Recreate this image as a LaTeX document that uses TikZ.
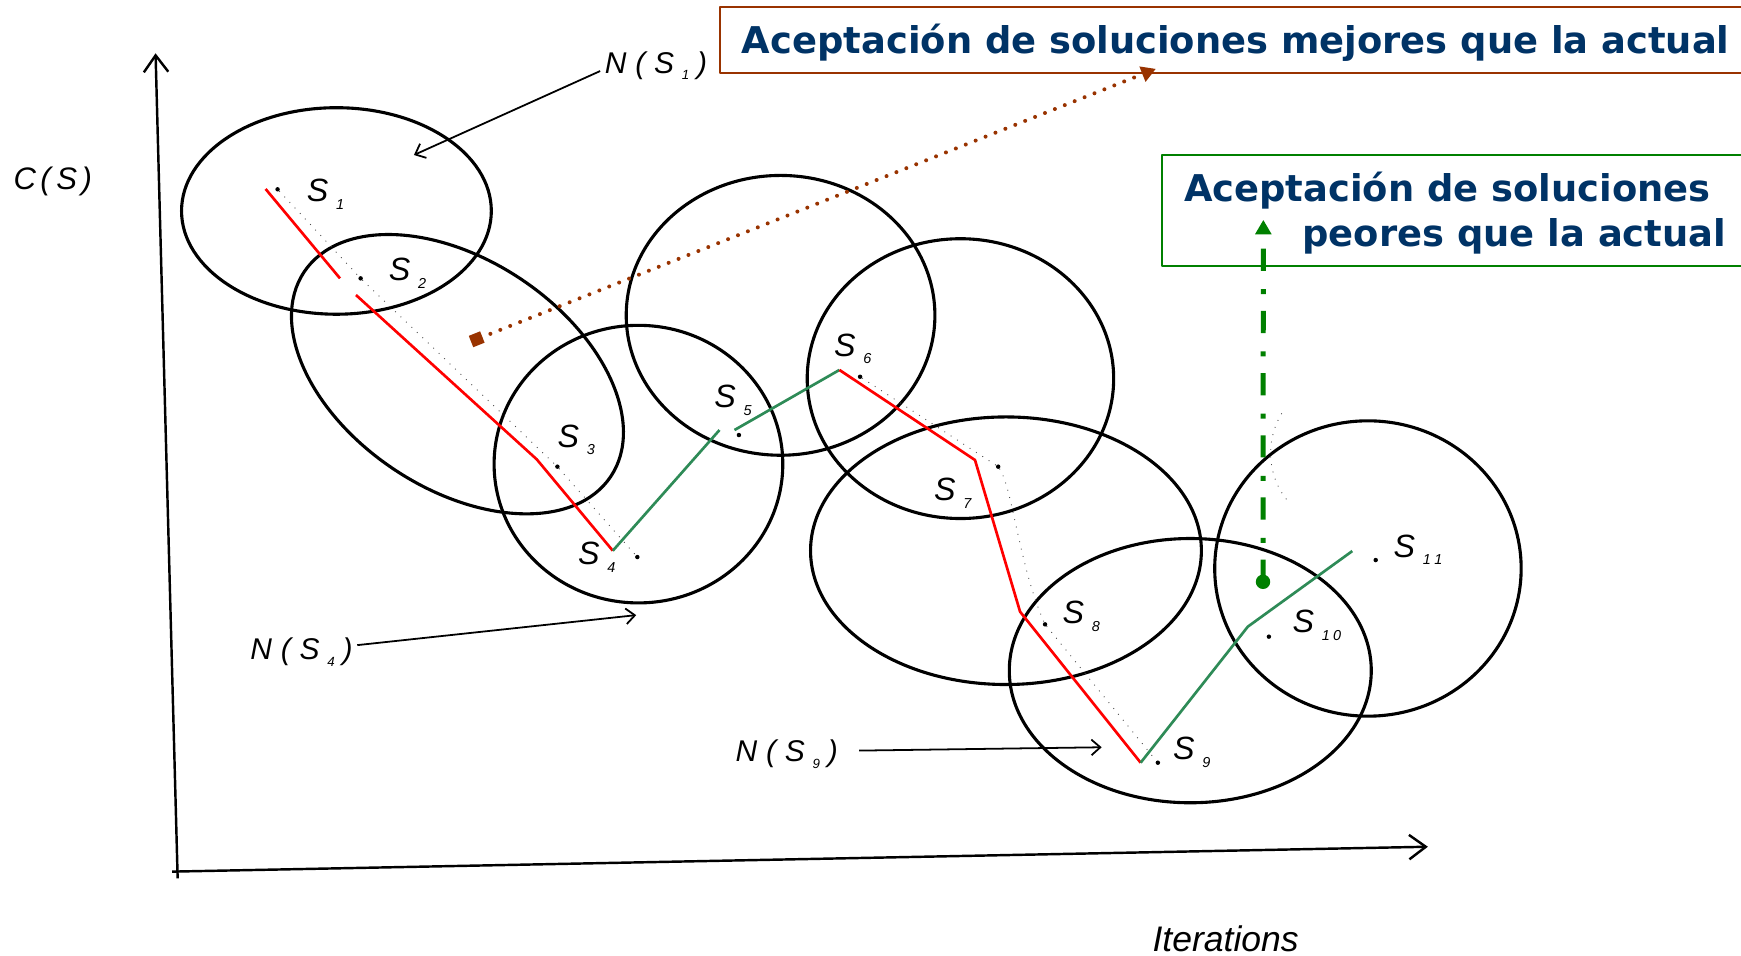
\documentclass[tikz,border=0pt]{standalone}
\usepackage{fontspec}
\setmainfont{Liberation Sans}
\newfontfamily\dvs{DejaVu Sans}
\usetikzlibrary{arrows.meta}
\definecolor{brn}{RGB}{153,51,0}
\definecolor{gbox}{RGB}{0,128,0}
\definecolor{dblue}{RGB}{0,51,102}
\definecolor{pathred}{RGB}{255,0,0}
\definecolor{pathgreen}{RGB}{46,139,87}
\newcommand\Ssub[1]{S\rlap{\kern7pt\smash{\raisebox{-7pt}{\fontsize{13}{13}\selectfont #1}}}}
\newcommand\Nlab[1]{N\kern8pt(\kern8pt S\kern7pt\smash{\raisebox{-6pt}{\fontsize{12}{12}\selectfont #1}}\kern7pt)}
\begin{document}
\begin{tikzpicture}[x=1pt,y=-1pt,line join=round,
  ell/.style={draw=black,line width=2.8pt},
  axisline/.style={draw=black,line width=2.2pt,-{Straight Barb[length=15pt,width=22pt]}},
  redp/.style={draw=pathred,line width=2.4pt},
  grnp/.style={draw=pathgreen,line width=2.4pt},
  faint/.style={draw=black!70,line width=0.8pt,dash pattern=on 0.8pt off 6pt},
  sdot/.style={circle,fill=black,inner sep=0pt,minimum size=4pt},
  slab/.style={font=\itshape\fontsize{29}{29}\selectfont,inner sep=0pt},
  nlab/.style={font=\itshape\fontsize{27}{27}\selectfont,inner sep=0pt,anchor=base},
  callout/.style={font=\dvs\bfseries\fontsize{33.2}{40}\selectfont,text=dblue,inner sep=0pt,anchor=base west},
  narrow/.style={draw=black,line width=1.6pt,-{Straight Barb[length=8pt,width=14pt]}}]
\useasboundingbox (0,0) rectangle (1568,861);
\clip (0,0) rectangle (1568,861);
\fill[white] (0,0) rectangle (1568,861);

% axes
\coordinate (ybot) at (160,791);
\coordinate (ytop) at (140.1,48);
\coordinate (xleft) at (155,785);
\coordinate (xright) at (1286,762.6);
\draw[axisline] (ybot) -- (ytop);
\draw[axisline] (xleft) -- (xright);
\node[nlab,font=\itshape\fontsize{28}{28}\selectfont] (cs) at (47.5,171) {C\kern4pt(\kern5pt S\kern4pt)};
\node[nlab,font=\itshape\fontsize{32}{32}\selectfont] (iter) at (1103.8,857) {Iterations};

% neighbourhoods
\draw[ell] (303,190) ellipse [x radius=139.5,y radius=93];
\draw[ell,rotate around={-33.7:(412,337)}] (412,337) ellipse [x radius=166,y radius=103];
\draw[ell] (575,418) ellipse [x radius=130,y radius=125];
\draw[ell] (703,284) ellipse [x radius=139,y radius=126];
\draw[ell] (865,341) ellipse [x radius=138,y radius=126];
\draw[ell] (906,496) ellipse [x radius=176,y radius=120.5];
\draw[ell] (1072,604) ellipse [x radius=163,y radius=119];
\draw[ell] (1232,512) ellipse [x radius=138,y radius=133];

% solution dots
\node[sdot] (d1) at (250,170.5) {};
\node[sdot] (d2) at (324.8,250.7) {};
\node[sdot] (d3) at (502,420.3) {};
\node[sdot] (d4) at (574,501.7) {};
\node[sdot] (d5) at (665.5,391.8) {};
\node[sdot] (d6) at (774.6,339.3) {};
\node[sdot] (d7) at (899,420.3) {};
\node[sdot] (d8) at (941.2,562.3) {};
\node[sdot] (d9) at (1042.8,686.9) {};
\node[sdot] (d10) at (1142.8,573.4) {};
\node[sdot] (d11) at (1239,504.4) {};

% faint original trajectory
\draw[faint] (d1) -- (d2);
\draw[faint] (d2) -- (d3) -- (d4);
\draw[faint] (d6) -- (d7);
\draw[faint] (d7) .. controls (912,440) and (918,510) .. (d8);
\draw[faint] (d8) -- (d9);
\draw[faint] (1154.4,372.3) .. controls (1140,395) and (1140,430) .. (1161.8,453.3);

% labels
\node[slab] (s1) at (286,171.7) {\Ssub{1}};
\node[slab] (s2) at (360,243) {\Ssub{2}};
\node[slab] (s3) at (511.9,392.7) {\Ssub{3}};
\node[slab] (s4) at (530.4,498.3) {\Ssub{4}};
\node[slab] (s5) at (653,357.3) {\Ssub{5}};
\node[slab] (s6) at (761,310.7) {\Ssub{6}};
\node[slab] (s7) at (851,440.7) {\Ssub{7}};
\node[slab] (s8) at (966.7,551.8) {\Ssub{8}};
\node[slab] (s9) at (1066.3,674) {\Ssub{9}};
\node[slab] (s10) at (1173.8,560) {\Ssub{1\kern3pt0}};
\node[slab] (s11) at (1264.9,491.8) {\Ssub{1\kern3pt1}};

\node[nlab] (n1) at (590.8,66) {\Nlab{1}};
\node[nlab] (n4) at (271.5,594) {\Nlab{4}};
\node[nlab] (n9) at (708.5,686) {\Nlab{9}};
\coordinate (a1) at (372.8,139.6);
\coordinate (a4) at (573,554);
\coordinate (a9) at (992.2,673);
\draw[narrow] ([xshift=-4pt,yshift=2pt]n1.base west) -- (a1);
\draw[narrow] ([xshift=4pt,yshift=6pt]n4.east) -- (a4);
\draw[narrow] ([xshift=19pt,yshift=3pt]n9.east) -- (a9);

% search path
\coordinate (r0) at (239.2,170.2);
\coordinate (r1) at (306.2,250.7);
\coordinate (r2) at (320.6,265.7);
\coordinate (r3) at (483.4,413.7);
\coordinate (v4) at (551.9,496);
\coordinate (g1) at (648,387.3);
\coordinate (g2) at (661.5,387.3);
\coordinate (v6) at (756,333.2);
\coordinate (r7) at (878.1,414.3);
\coordinate (r8) at (918.7,550.9);
\coordinate (v9) at (1027.3,686.9);
\coordinate (g10) at (1123.8,564.4);
\coordinate (g11) at (1217.9,496.3);
\draw[redp] (r0) -- (r1);
\draw[redp] (r2) -- (r3) -- (v4);
\draw[grnp] (v4) -- (g1);
\draw[grnp] (g2) -- (v6);
\draw[redp] (v6) -- (r7) -- (r8) -- (v9);
\draw[grnp] (v9) -- (g10) -- (g11);

% callout boxes
\draw[brn,line width=1.8pt] (648,6) rectangle (1600,65.5);
\draw[gbox,line width=1.8pt] (1046.3,139.6) rectangle (1600,239.3);
\node[callout] (t1) at (668,48) {Aceptación de soluciones mejores que la actual};
\node[callout] (t2) at (1066.3,181.6) {Aceptación de soluciones};
\node[callout] (t3) at (1172.9,222.2) {peores que la actual};

% brown dotted arrow
\coordinate (bstart) at (424.2,307.6);
\coordinate (btip) at (1041,62);
\draw[brn,line width=3.6pt,line cap=round,dash pattern=on 0pt off 9.6pt,
  {Square[length=11pt,width=11pt]}-{Triangle[length=13pt,width=14pt]}] (bstart) -- (btip);

% green dash-dot arrow
\node[circle,fill=gbox,minimum size=13pt,inner sep=0pt] (gdot) at (1137.5,524) {};
\coordinate (gtip) at (1137.8,198);
\draw[gbox,line width=4.5pt,dash pattern=on 20pt off 15pt on 4.5pt off 16.5pt,
  -{Triangle[length=13pt,width=14pt]}] (gdot.center) -- (gtip);
\end{tikzpicture}
\end{document}
